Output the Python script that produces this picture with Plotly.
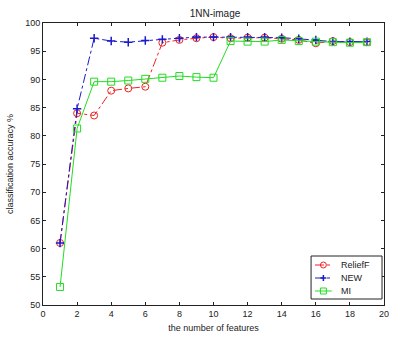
import plotly.graph_objects as go

# Number of selected features
n_features = list(range(1, 20))

# Classification accuracy (%) with a 1-NN classifier for each ranking method
relieff = [61.0, 84.0, 83.6, 88.0, 88.4, 88.7, 96.5, 97.0, 97.3, 97.5,
           97.3, 97.4, 97.4, 97.2, 97.0, 96.4, 96.8, 96.6, 96.6]
new_method = [61.0, 84.8, 97.3, 96.8, 96.6, 96.9, 97.1, 97.3, 97.5, 97.5,
              97.5, 97.5, 97.5, 97.4, 97.2, 97.0, 96.7, 96.7, 96.7]
mi = [53.2, 81.3, 89.6, 89.6, 89.8, 90.1, 90.3, 90.6, 90.4, 90.3,
      96.8, 96.7, 96.7, 97.0, 96.8, 96.7, 96.6, 96.5, 96.6]

series_names = ["ReliefF", "NEW", "MI"]
series_colors = ["#ee2222", "#1a1acc", "#22dd22"]
series_dash = ["dashdot", "dashdot", "solid"]

x_ticks = list(range(0, 21, 2))
y_ticks = list(range(50, 101, 5))

W, H = 395, 339
ML, MR, MT, MB = 43, 6, 23, 34
PW, PH = W - ML - MR, H - MT - MB

font = dict(family="Liberation Sans, Arial, sans-serif", size=9, color="#222")

fig = go.Figure()
fig.add_trace(go.Scatter(
    x=n_features, y=relieff, name=series_names[0], mode="lines+markers",
    line=dict(color=series_colors[0], width=1, dash=series_dash[0]),
    marker=dict(symbol="circle-open", size=7, color=series_colors[0], line=dict(width=1)),
))
fig.add_trace(go.Scatter(
    x=n_features, y=new_method, name=series_names[1], mode="lines+markers",
    line=dict(color=series_colors[1], width=1, dash=series_dash[1]),
    marker=dict(symbol="cross-thin-open", size=6, color=series_colors[1], line=dict(width=1.5)),
))
fig.add_trace(go.Scatter(
    x=n_features, y=mi, name=series_names[2], mode="lines+markers",
    line=dict(color=series_colors[2], width=1, dash=series_dash[2]),
    marker=dict(symbol="square-open", size=7, color=series_colors[2], line=dict(width=1)),
))


# Compact boxed legend drawn in plot-area (paper) coordinates
def px(xp):
    return (xp - ML) / PW


def py(yp):
    return (H - MB - yp) / PH


shapes = [dict(type="rect", xref="paper", yref="paper",
               x0=px(315), x1=px(387), y0=py(299), y1=py(256),
               line=dict(color="#222", width=1), fillcolor="white", layer="above")]
annotations = []
rows = [265, 278, 291]
for name, color, dash, yr in zip(series_names, series_colors, series_dash, rows):
    shapes.append(dict(type="line", xref="paper", yref="paper",
                       x0=px(319), x1=px(336), y0=py(yr), y1=py(yr),
                       line=dict(color=color, width=1, dash=dash), layer="above"))
    annotations.append(dict(text=name, xref="paper", yref="paper", x=px(343), y=py(yr),
                            xanchor="left", yanchor="middle", showarrow=False,
                            font=dict(family=font["family"], size=9, color="#222")))
# legend sample markers
cx = 327.5
shapes.append(dict(type="circle", xref="paper", yref="paper",
                   x0=px(cx - 3), x1=px(cx + 3), y0=py(rows[0] + 3), y1=py(rows[0] - 3),
                   line=dict(color=series_colors[0], width=1), fillcolor="rgba(0,0,0,0)", layer="above"))
shapes.append(dict(type="line", xref="paper", yref="paper",
                   x0=px(cx), x1=px(cx), y0=py(rows[1] + 3), y1=py(rows[1] - 3),
                   line=dict(color=series_colors[1], width=1.5), layer="above"))
shapes.append(dict(type="line", xref="paper", yref="paper",
                   x0=px(cx - 3), x1=px(cx + 3), y0=py(rows[1]), y1=py(rows[1]),
                   line=dict(color=series_colors[1], width=1.5), layer="above"))
shapes.append(dict(type="rect", xref="paper", yref="paper",
                   x0=px(cx - 3), x1=px(cx + 3), y0=py(rows[2] + 3), y1=py(rows[2] - 3),
                   line=dict(color=series_colors[2], width=1), fillcolor="rgba(0,0,0,0)", layer="above"))

axis_common = dict(
    showgrid=False, zeroline=False, showline=True, linecolor="#222", linewidth=1,
    mirror="ticks", ticks="inside", ticklen=3, tickcolor="#222", tickfont=font,
)

fig.update_layout(
    width=W, height=H,
    margin=dict(l=ML, r=MR, t=MT, b=MB),
    paper_bgcolor="white", plot_bgcolor="white",
    font=font,
    showlegend=False,
    title=dict(text="1NN-image", x=215 / W, xanchor="center", y=1 - 13 / H, yanchor="middle",
               font=dict(family=font["family"], size=10, color="#222")),
    xaxis=dict(range=[0, 20], tickvals=x_ticks,
               title=dict(text="the number of features", font=font, standoff=6),
               **axis_common),
    yaxis=dict(range=[50, 100], tickvals=y_ticks,
               title=dict(text="classification accuracy %", font=font, standoff=10),
               **axis_common),
    shapes=shapes,
    annotations=annotations,
)

fig.write_html("out.html")
